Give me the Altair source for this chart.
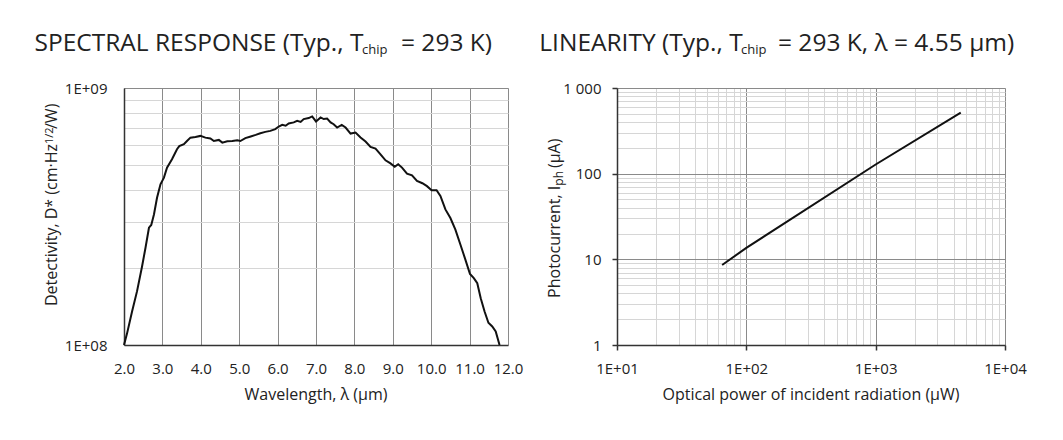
import altair as alt
import pandas as pd

FONT = "Open Sans"
TXT = "#222222"
MAJOR = "#8a8a8a"
MINOR = "#d6d6d6"
AXIS = "#333333"

# ---------------- data: spectral response ----------------
wavelength_um = [2.0, 2.08, 2.21, 2.34, 2.47, 2.56, 2.65, 2.71, 2.78, 2.86, 2.95, 3.04, 3.12, 3.25,
                 3.38, 3.44, 3.56, 3.64, 3.73, 3.86, 3.99, 4.12, 4.25, 4.34, 4.47, 4.56, 4.69, 4.82,
                 4.95, 5.03, 5.16, 5.30, 5.43, 5.55, 5.68, 5.81, 5.94, 6.03, 6.12, 6.21, 6.29, 6.42,
                 6.51, 6.60, 6.68, 6.81, 6.90, 7.0, 7.12, 7.2, 7.29, 7.38, 7.46, 7.55, 7.67, 7.77,
                 7.90, 8.03, 8.16, 8.29, 8.42, 8.55, 8.68, 8.81, 8.94, 9.05, 9.14, 9.24, 9.37, 9.50,
                 9.63, 9.77, 9.89, 10.01, 10.14, 10.24, 10.37, 10.50, 10.63, 10.76, 10.89, 11.01,
                 11.11, 11.20, 11.29, 11.39, 11.49, 11.59, 11.68, 11.78]
detectivity_e8 = [1.0, 1.11, 1.35, 1.62, 2.02, 2.39, 2.86, 2.93, 3.22, 3.74, 4.22, 4.48, 4.90, 5.28,
                  5.78, 5.94, 6.04, 6.22, 6.41, 6.45, 6.51, 6.41, 6.36, 6.22, 6.28, 6.13, 6.21, 6.22,
                  6.26, 6.22, 6.38, 6.48, 6.57, 6.67, 6.75, 6.81, 6.92, 7.08, 7.19, 7.13, 7.28, 7.35,
                  7.45, 7.38, 7.57, 7.64, 7.75, 7.41, 7.68, 7.57, 7.61, 7.35, 7.23, 7.02, 7.19, 7.02,
                  6.65, 6.71, 6.42, 6.19, 5.90, 5.81, 5.52, 5.23, 5.09, 4.94, 5.05, 4.90, 4.64, 4.57,
                  4.35, 4.26, 4.15, 4.0, 4.0, 3.80, 3.37, 3.12, 2.81, 2.46, 2.15, 1.89,
                  1.82, 1.74, 1.52, 1.35, 1.22, 1.18, 1.13, 1.0]

# ---------------- data: linearity ----------------
power_uW = [65, 100, 1000, 4550]
photocurrent_uA = [8.6, 13.6, 128, 515]

# ---------------- tick / grid values ----------------
x_ticks_left = [2, 3, 4, 5, 6, 7, 8, 9, 10, 11, 12]
y_grid_left = [1e8, 2e8, 3e8, 4e8, 5e8, 6e8, 7e8, 8e8, 9e8, 1e9]
x_grid_right = [m * d for d in (10, 100, 1000) for m in range(1, 10)] + [10000]
y_grid_right = [m * d for d in (1, 10, 100) for m in range(1, 10)] + [1000]

W1, W2, H = 384, 388, 257
TS = 24.5


def txt(s, x, y, size, align="left", angle=0, baseline="alphabetic"):
    kw = dict(font=FONT, fontSize=size, color=TXT, align=align, baseline=baseline)
    if angle:
        kw["angle"] = angle
    return alt.Chart(pd.DataFrame({"t": [s]})).mark_text(**kw).encode(
        x=alt.value(x), y=alt.value(y), text="t:N")


axis_common = dict(title=None, labelFont=FONT, labelFontSize=15, labelColor=TXT,
                   domainColor=AXIS, domainWidth=1.5, labelOverlap=False, labelFlush=False)

# ---------------- left panel ----------------
df1 = pd.DataFrame({"lam": wavelength_um, "D": [v * 1e8 for v in detectivity_e8]})

line1 = alt.Chart(df1).mark_line(color="#111111", strokeWidth=2).encode(
    x=alt.X("lam:Q", scale=alt.Scale(domain=[2, 12], nice=False, zero=False),
            axis=alt.Axis(values=x_ticks_left, format=".1f", grid=True, gridColor=MAJOR,
                          ticks=False, labelPadding=16, **axis_common)),
    y=alt.Y("D:Q", scale=alt.Scale(type="log", domain=[1e8, 1e9], nice=False),
            axis=alt.Axis(values=y_grid_left, grid=True,
                          gridColor={"condition": {"test": "datum.value >= 9.99e8", "value": MAJOR},
                                     "value": MINOR},
                          labelExpr="datum.value == 1e8 ? '1E+08' : (datum.value == 1e9 ? '1E+09' : '')",
                          ticks=False, labelPadding=17, **axis_common)),
)

left = alt.layer(
    line1,
    txt("SPECTRAL RESPONSE (Typ., T", -89.5, -37, TS),
    txt("chip", 238, -34, 13),
    txt("= 293 K)", 277, -37, TS),
    txt("Wavelength, λ (μm)", W1 / 2, 312, 16, align="center"),
    txt("Detectivity, D* (cm·Hz", -66.8, 56, 16, align="right", angle=270),
    txt("1/2", -71.5, 56, 11, align="left", angle=270),
    txt("/W)", -66.8, 41, 16, align="left", angle=270),
).properties(width=W1, height=H)

# ---------------- right panel ----------------
df2 = pd.DataFrame({"P": power_uW, "I": photocurrent_uA})
maj_x = "datum.value == 10 || datum.value == 100 || datum.value == 1000 || datum.value == 10000"
maj_y = "datum.value == 1 || datum.value == 10 || datum.value == 100 || datum.value == 1000"

line2 = alt.Chart(df2).mark_line(color="#111111", strokeWidth=2).encode(
    x=alt.X("P:Q", scale=alt.Scale(type="log", domain=[10, 10000], nice=False),
            axis=alt.Axis(values=x_grid_right, grid=True,
                          gridColor={"condition": {"test": maj_x, "value": MAJOR}, "value": MINOR},
                          tickColor={"condition": {"test": maj_x, "value": AXIS}, "value": "transparent"},
                          tickSize=5, tickWidth=1.5,
                          labelExpr="datum.value == 10 ? '1E+01' : datum.value == 100 ? '1E+02' : "
                                    "datum.value == 1000 ? '1E+03' : datum.value == 10000 ? '1E+04' : ''",
                          labelPadding=11, **axis_common)),
    y=alt.Y("I:Q", scale=alt.Scale(type="log", domain=[1, 1000], nice=False),
            axis=alt.Axis(values=y_grid_right, grid=True,
                          gridColor={"condition": {"test": maj_y, "value": MAJOR}, "value": MINOR},
                          tickColor={"condition": {"test": maj_y, "value": AXIS}, "value": "transparent"},
                          tickSize=5, tickWidth=1.5,
                          labelExpr="datum.value == 1000 ? '1 000' : datum.value == 100 ? '100' : "
                                    "datum.value == 10 ? '10' : datum.value == 1 ? '1' : ''",
                          labelPadding=11, **axis_common)),
)

right = alt.layer(
    line2,
    txt("LINEARITY (Typ., T", -77.7, -37, TS),
    txt("chip", 124, -34, 13),
    txt("= 293 K, λ = 4.55 μm)", 161, -37, TS),
    txt("Optical power of incident radiation (μW)", W2 / 2, 312, 16, align="center"),
    txt("Photocurrent, I", -57.2, 97.7, 16, align="right", angle=270),
    txt("ph", -54.5, 97.7, 12, align="left", angle=270),
    txt("(μA)", -57.2, 80, 16, align="left", angle=270),
).properties(width=W2, height=H)

chart = alt.hconcat(left, right, spacing=14).properties(
    padding={"left": 26, "top": 22, "right": 5, "bottom": 5}
).configure_view(stroke=None).configure(background="white")

chart.save("out.html", embed_options={"renderer": "svg", "actions": False})
